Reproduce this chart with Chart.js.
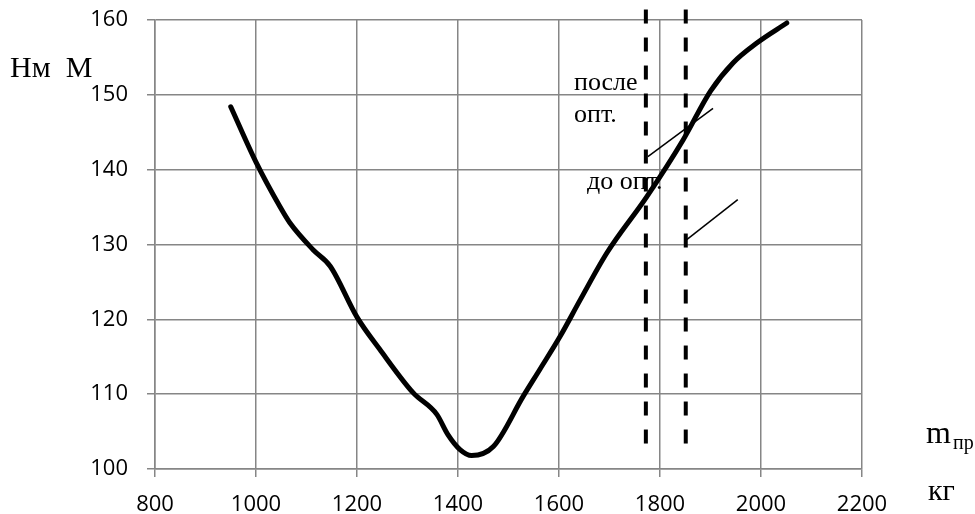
<!DOCTYPE html>
<html>
<head>
<meta charset="utf-8">
<script src="https://cdn.jsdelivr.net/npm/chart.js@4"></script>
<style>
  body { margin: 0; background: #fff; }
  #wrap { width: 975px; height: 514px; position: relative; }
</style>
</head>
<body>
<div id="wrap"><canvas id="myChart"></canvas></div>
<script>
// curve M(m_пр)
const massX = [950, 1000, 1047, 1067, 1113, 1147, 1200, 1245, 1311, 1358, 1380, 1404, 1427, 1470, 1529, 1562, 1602, 1642, 1695, 1774, 1846, 1900, 1945, 1991, 2051];
const momentY = [148.4, 141.0, 135.1, 132.9, 129.3, 127.1, 120.3, 116.0, 110.2, 107.3, 104.6, 102.6, 101.8, 103.0, 109.7, 113.3, 117.7, 122.6, 128.9, 136.4, 144.0, 150.5, 154.3, 156.9, 159.6];

// vertical dashed lines: after / before optimisation
const afterOptX = 1772;
const beforeOptX = 1851;
const dashTopY = 161.4;
const dashBottomY = 103.0;

// thin pointer lines to the labels
const pointerAfterX = [1776, 1905];
const pointerAfterY = [141.75, 148.2];
const pointerBeforeX = [1853, 1954];
const pointerBeforeY = [130.65, 136.0];

const xTicks = [800, 1000, 1200, 1400, 1600, 1800, 2000, 2200];
const yTicks = [100, 110, 120, 130, 140, 150, 160];

function toPoints(xs, ys) {
  return xs.map((x, i) => ({ x: x, y: ys[i] }));
}

// text labels drawn on the canvas
const textLabels = {
  id: 'textLabels',
  afterDraw(chart) {
    const ctx = chart.ctx;
    ctx.save();
    ctx.fillStyle = '#000';
    ctx.textAlign = 'left';
    ctx.textBaseline = 'alphabetic';
    ctx.font = '30px "Liberation Serif"';
    ctx.fillText('Нм  М', 10, 77);
    ctx.fillText('кг', 928, 500);
    ctx.font = '32px "Liberation Serif"';
    ctx.fillText('m', 926, 443);
    ctx.font = '20px "Liberation Serif"';
    ctx.fillText('пр', 953, 449);
    ctx.font = '26px "Liberation Serif"';
    ctx.fillText('после', 574, 90);
    ctx.fillText('опт.', 574, 122);
    ctx.fillText('до опт.', 587, 189);
    ctx.restore();
  }
};

function createChart() {
  const ctx = document.getElementById('myChart').getContext('2d');
  const thin = { borderColor: '#000', borderWidth: 1.5, pointRadius: 0, tension: 0, fill: false, clip: false };
  new Chart(ctx, {
    type: 'line',
    data: {
      datasets: [
        {
          data: toPoints(massX, momentY),
          borderColor: '#000',
          borderWidth: 5,
          pointRadius: 0,
          cubicInterpolationMode: 'monotone',
          borderCapStyle: 'round',
          fill: false
        },
        Object.assign({ data: toPoints([afterOptX, afterOptX], [dashTopY, dashBottomY]) }, thin, { borderWidth: 4, borderDash: [14, 14] }),
        Object.assign({ data: toPoints([beforeOptX, beforeOptX], [dashTopY, dashBottomY]) }, thin, { borderWidth: 4, borderDash: [14, 14] }),
        Object.assign({ data: toPoints(pointerAfterX, pointerAfterY) }, thin),
        Object.assign({ data: toPoints(pointerBeforeX, pointerBeforeY) }, thin)
      ]
    },
    options: {
      responsive: true,
      maintainAspectRatio: false,
      animation: false,
      layout: { padding: { top: 20, right: 113, left: 0, bottom: 0 } },
      plugins: { legend: { display: false }, tooltip: { enabled: false } },
      scales: {
        x: {
          type: 'linear',
          min: 800,
          max: 2200,
          afterBuildTicks: s => { s.ticks = xTicks.map(v => ({ value: v })); },
          afterFit: s => { s.height = 45; },
          grid: { color: '#868686', lineWidth: 1.5, tickLength: 8 },
          border: { color: '#868686', width: 1.5 },
          ticks: { color: '#000', padding: 15, font: { family: '"Open Sans"', size: 22 }, callback: v => String(v) }
        },
        y: {
          min: 100,
          max: 160,
          afterBuildTicks: s => { s.ticks = yTicks.map(v => ({ value: v })); },
          afterFit: s => { s.width = 155; s.paddingTop = 0; s.paddingBottom = 0; },
          grid: { color: '#868686', lineWidth: 1.5, tickLength: 8 },
          border: { color: '#868686', width: 1.5 },
          ticks: { color: '#000', padding: 19, font: { family: '"Open Sans"', size: 22 }, callback: v => String(v) }
        }
      }
    },
    plugins: [textLabels]
  });
}

document.addEventListener("DOMContentLoaded", function() {
  createChart();
});
</script>
</body>
</html>
